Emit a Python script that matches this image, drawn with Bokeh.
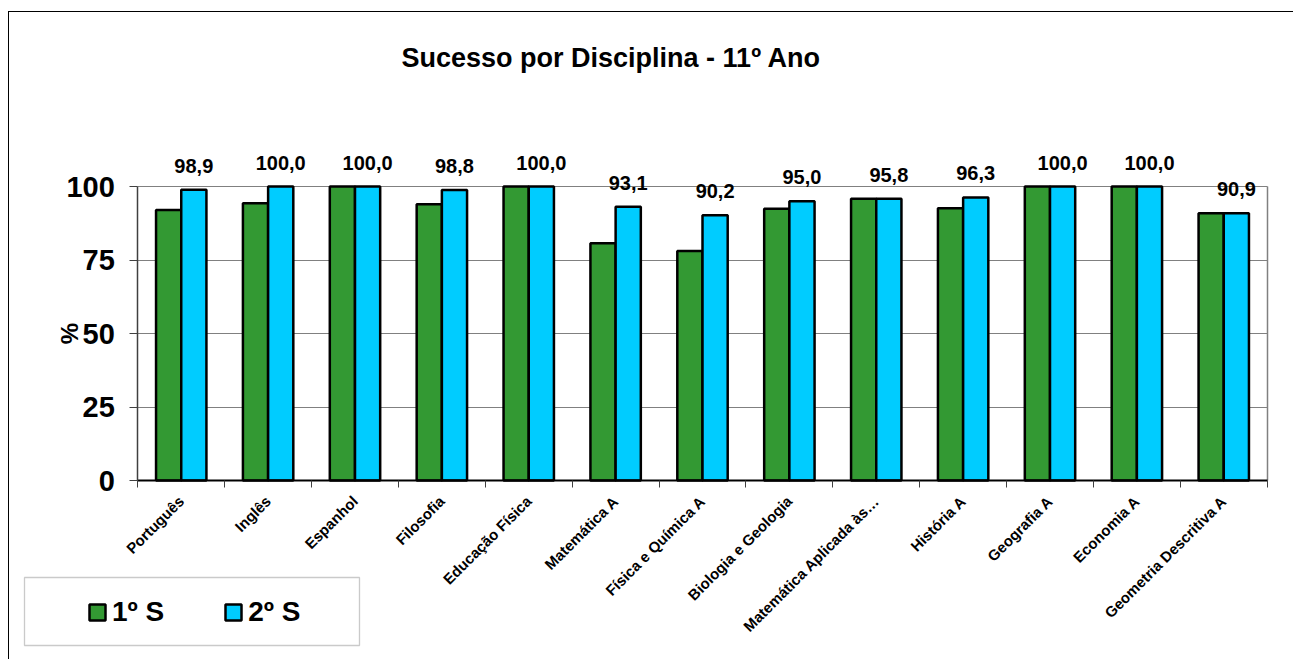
import math
from bokeh.plotting import figure
from bokeh.models import (FixedTicker, ColumnDataSource, LabelSet, Label, Legend, LegendItem,
                          BoxAnnotation, Range1d)
from bokeh.transform import dodge
from bokeh.core.properties import value
from bokeh.embed import file_html
from bokeh.resources import INLINE

# ---------------- data ----------------
categories = ["Português", "Inglês", "Espanhol", "Filosofia", "Educação Física",
              "Matemática A", "Física e Química A", "Biologia e Geologia",
              "Matemática Aplicada às…", "História A", "Geografia A", "Economia A",
              "Geometria Descritiva A"]
sem1 = [92.0, 94.3, 100.0, 94.0, 100.0, 80.7, 78.1, 92.4, 95.8, 92.6, 100.0, 100.0, 90.9]
sem2 = [98.9, 100.0, 100.0, 98.8, 100.0, 93.1, 90.2, 95.0, 95.8, 96.3, 100.0, 100.0, 90.9]
series_names = ["1º S", "2º S"]
y_ticks = [0, 25, 50, 75, 100]
title_text = "Sucesso por Disciplina - 11º Ano"
y_label = "%"

# ---------------- layout constants (page pixels) ----------------
FONT = "Liberation Sans"
GREEN = "#339933"
BLUE = "#00CCFF"
GRID = "#808080"

OX, OY = 9, 12                 # canvas origin on the page (after css margin)
W, H = 1285, 648
PLOT_L, PLOT_R = 137.3, 1266.7  # category area on the page
PLOT_T, PLOT_B = 186.0, 480.0   # value 100 / value 0 on the page
FRAME_L, FRAME_R, FRAME_T, FRAME_B = 10, 1293, 80, 660

n = len(categories)
ymax = y_ticks[-1]
cat_px = (PLOT_R - PLOT_L) / n
val_px = (PLOT_B - PLOT_T) / ymax
x_start = (FRAME_L - PLOT_L) / cat_px
x_end = n + (FRAME_R - PLOT_R) / cat_px
y_end = (PLOT_B - FRAME_T) / val_px
y_start = -(FRAME_B - PLOT_B) / val_px

centers = [i + 0.5 for i in range(n)]
labels2 = [f"{v:.1f}".replace(".", ",") for v in sem2]
src = ColumnDataSource(dict(x=centers, s1=sem1, s2=sem2, lab=labels2))

p = figure(width=W, height=H, tools="",
           x_range=Range1d(x_start, x_end), y_range=Range1d(y_start, y_end),
           output_backend="svg", toolbar_location=None,
           min_border_left=FRAME_L - OX, min_border_right=OX + W - FRAME_R,
           min_border_top=FRAME_T - OY, min_border_bottom=OY + H - FRAME_B)
p.toolbar.logo = None
# outer chart border (top and left only) drawn as an outside shadow line
p.styles = {"margin-left": f"{OX}px", "margin-top": f"{OY}px",
            "box-shadow": "-1px -1px 0px 0px #000000"}
p.outline_line_color = None
p.background_fill_color = "white"
p.border_fill_color = "white"

# title
p.title.text = title_text
p.title.text_font = FONT
p.title.text_font_size = "27px"
p.title.text_font_style = "bold"
p.title.text_color = "black"
p.title.align = "left"
p.title.offset = 401 - FRAME_L
p.title.standoff = 15

# grid: horizontal lines only across the category area, plus right border of plot area
p.ygrid.grid_line_color = GRID
p.ygrid.grid_line_width = 1.2
p.ygrid.cross_bounds = (0, n)
p.xgrid.ticker = FixedTicker(ticks=[n])
p.xgrid.grid_line_color = GRID
p.xgrid.grid_line_width = 1.5
p.xgrid.cross_bounds = (0, ymax)

# y axis (fixed at the left edge of the category area)
p.yaxis.fixed_location = 0
p.yaxis.bounds = (0, ymax)
p.yaxis.ticker = FixedTicker(ticks=y_ticks)
p.yaxis.major_label_text_font = FONT
p.yaxis.major_label_text_font_size = "29px"
p.yaxis.major_label_text_font_style = "bold"
p.yaxis.major_label_text_color = "black"
p.yaxis.major_tick_out = 8
p.yaxis.major_tick_in = 0
p.yaxis.minor_tick_line_color = None
p.yaxis.major_tick_line_color = "#404040"
p.yaxis.axis_line_color = "#404040"
p.yaxis.axis_line_width = 1.5
p.yaxis.major_label_standoff = 15

# x axis (fixed at value 0): labels at category centres, ticks at boundaries
p.xaxis.fixed_location = 0
p.xaxis.bounds = (0, n)
p.xaxis.ticker = FixedTicker(ticks=centers, minor_ticks=list(range(n + 1)))
p.xaxis.major_label_overrides = {c: cat for c, cat in zip(centers, categories)}
p.xaxis.major_label_orientation = math.pi / 4
p.xaxis.major_label_text_font = FONT
p.xaxis.major_label_text_font_size = "15px"
p.xaxis.major_label_text_font_style = "bold"
p.xaxis.major_label_text_color = "black"
p.xaxis.major_tick_out = 0
p.xaxis.major_tick_in = 0
p.xaxis.minor_tick_out = 7
p.xaxis.minor_tick_in = 0
p.xaxis.minor_tick_line_color = "#404040"
p.xaxis.axis_line_color = "black"
p.xaxis.axis_line_width = 1.8
p.xaxis.major_label_standoff = 11

# y axis title
p.add_layout(Label(x=69.4 - FRAME_L, x_units="screen", y=(y_ticks[0] + ymax) / 2,
                   text=y_label, angle=math.pi / 2, text_align="center",
                   text_baseline="middle", text_font=FONT, text_font_size="24px",
                   text_font_style="bold", text_color="black"))

# bars
bw = 0.29
r1 = p.vbar(x=dodge("x", -bw / 2), top="s1", width=bw, source=src,
            fill_color=GREEN, line_color="black", line_width=2.5)
r2 = p.vbar(x=dodge("x", bw / 2), top="s2", width=bw, source=src,
            fill_color=BLUE, line_color="black", line_width=2.5)

# data labels (2nd semester)
labels = LabelSet(x=dodge("x", bw / 2), y="s2", text="lab", source=src,
                  text_align="center", text_baseline="alphabetic", y_offset=17,
                  text_font=value(FONT), text_font_size=value("20px"),
                  text_font_style="bold", text_color="black")
p.add_layout(labels)

# legend
legend = Legend(items=[LegendItem(label=series_names[0], renderers=[r1]),
                       LegendItem(label=series_names[1], renderers=[r2])],
                orientation="horizontal", location=(87 - FRAME_L, FRAME_B - 628),
                glyph_width=20, glyph_height=20, label_standoff=5, spacing=59,
                padding=0, margin=0, border_line_alpha=0, background_fill_alpha=0,
                label_text_font=FONT, label_text_font_size="28px",
                label_text_line_height=0.6,
                label_text_font_style="bold", label_text_color="black")
p.add_layout(legend, "center")

legend_box = BoxAnnotation(left=24 - FRAME_L, right=359 - FRAME_L,
                           top=FRAME_B - 577, bottom=FRAME_B - 645,
                           left_units="screen", right_units="screen",
                           top_units="screen", bottom_units="screen",
                           fill_alpha=0, line_color="#505050", line_width=1.3)
p.add_layout(legend_box)

open("out.html", "w").write(file_html(p, INLINE))
